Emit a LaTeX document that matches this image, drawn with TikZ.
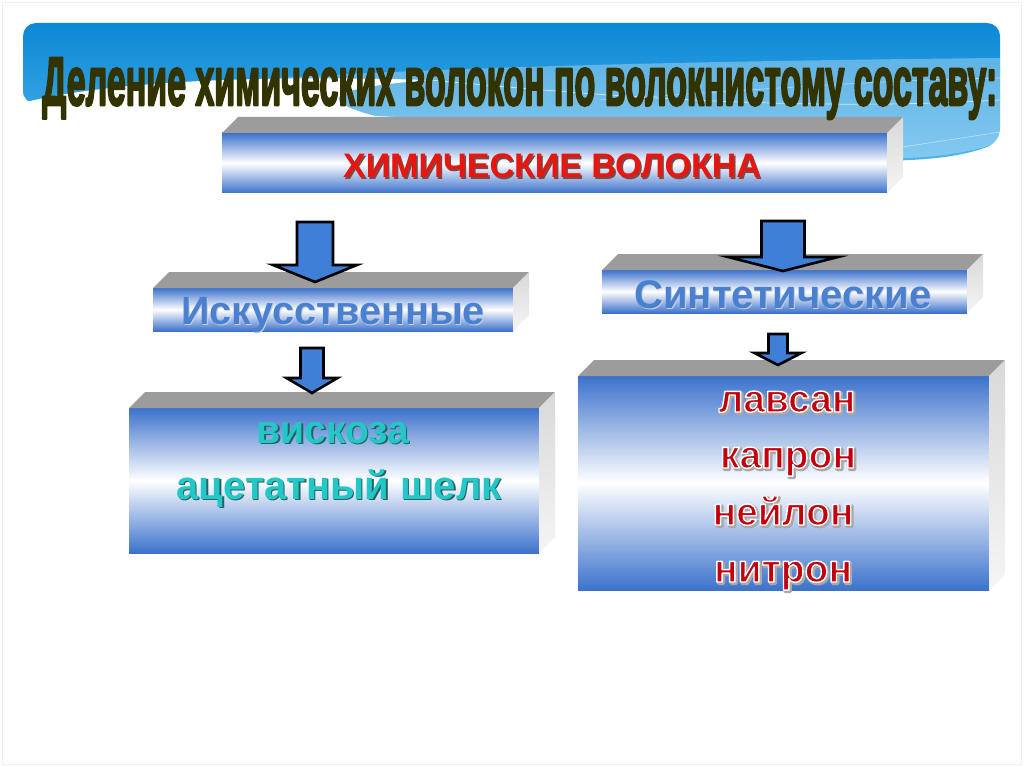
\documentclass[tikz,border=0pt]{standalone}
\usepackage{fontspec}
\setmainfont{Liberation Sans}
\usepackage{graphicx}
\definecolor{sky1}{HTML}{0B88D6}
\definecolor{sky2}{HTML}{5CBCEE}
\definecolor{boxblue}{HTML}{3C72CC}
\definecolor{topgray}{HTML}{9C9C9C}
\definecolor{arrowblue}{HTML}{3F7FD8}
\definecolor{titlecol}{HTML}{333300}
\definecolor{redA}{HTML}{E8160F}
\definecolor{redAshadow}{HTML}{7A4A4A}
\definecolor{blueText}{HTML}{4A80D0}
\definecolor{blueShadow}{HTML}{C8CCD8}
\definecolor{tealText}{HTML}{22C8C8}
\definecolor{tealShadow}{HTML}{2A6062}
\definecolor{redB}{HTML}{C4000C}
\definecolor{outgray}{HTML}{A8A8A8}
% copy of a text, shifted, with zero width
\newcommand\cp[4]{\makebox[0pt][l]{\kern#1\raisebox{#2}{\textcolor{#3}{#4}}}}
% #1 offset, #2 shadow colour, #3 main colour, #4 text
\newcommand\shadowtxt[4]{\cp{#1}{-#1}{#2}{#4}\textcolor{#3}{#4}}
% text filled and stroked: #1 stroke rgb, #2 stroke width, #3 text
\newcommand\strk[3]{\special{pdf:literal direct #1 RG 2 Tr #2 w 1 j}#3\special{pdf:literal direct 0 Tr}}
\newcommand\outlinetxt[1]{%
  \cp{1.5pt}{-1.5pt}{outgray}{\strk{0.66 0.66 0.66}{3}{#1}}%
  \textcolor{redB}{\strk{1 1 1}{1.4}{#1}}}
\tikzset{
  front/.style={shade, top color=boxblue, bottom color=boxblue, middle color=white, inner sep=0pt, outer sep=0pt},
  topface/.style={fill=topgray},
  sideface/.style={top color=gray!30, bottom color=gray!8},
  blockarrow/.style={draw=black, line width=2.6pt, fill=arrowblue, line join=miter},
  lbl/.style={inner sep=0pt, anchor=base, font=\bfseries},
}
% name, x1, y1, x2, y2 of the front face
\newcommand\cube[5]{%
  \node[front, minimum width={#4pt-#2pt}, minimum height={#5pt-#3pt}, anchor=north west] (#1) at (#2,#3) {};
  \fill[topface] (#1.north west) -- ++(16,-16) -- ([shift={(16,-16)}]#1.north east) -- (#1.north east) -- cycle;
  \shade[sideface] (#1.north east) -- ++(16,-16) -- ([shift={(16,-16)}]#1.south east) -- (#1.south east) -- cycle;
}
% cx, ytop, half shaft, head base y, half head, tip y
\newcommand\blockarr[6]{%
  \draw[blockarrow] (#1-#3,#2) -- (#1+#3,#2) -- (#1+#3,#4) -- (#1+#5,#4) -- (#1,#6) -- (#1-#5,#4) -- (#1-#3,#4) -- cycle;
}
\begin{document}
\begin{tikzpicture}[x=1pt,y=-1pt]
\useasboundingbox (0,0) rectangle (1024,767);
\fill[white] (0,0) rectangle (1024,767);
\draw[gray!12, line width=1pt] (2.5,2.5) rectangle (1021.5,764.5);
% sky banner
\shade[top color=sky1, bottom color=sky2, rounded corners=13pt]
  (23,104) -- (23,23) -- (1000,23) -- (1000,142) .. controls (880,188) and (600,125) .. (420,118) .. controls (250,110) and (120,100) .. (23,104) -- cycle;
\fill[white, opacity=0.3]
  (23,104) .. controls (200,72) and (600,62) .. (1000,58) -- (1000,142) .. controls (880,188) and (600,125) .. (420,118) .. controls (250,110) and (120,100) .. (23,104) -- cycle;
\fill[white]
  (18,104) .. controls (90,85) and (220,74) .. (430,80) .. controls (330,88) and (300,100) .. (400,122) -- (18,122) -- cycle;
\draw[white, opacity=0.7, line width=0.7pt] (430,80) .. controls (600,96) and (800,112) .. (1000,100);
\draw[white, opacity=0.5, line width=0.6pt] (600,100) .. controls (750,90) and (880,80) .. (1000,78);
\draw[white, opacity=0.5, line width=0.6pt] (820,160) .. controls (880,150) and (950,140) .. (1000,132);
% boxes
\cube{b1}{222}{133}{887}{193}
\cube{b2}{153}{288}{513}{331}
\cube{b3}{602}{270}{967}{313}
\cube{b4}{129}{408}{539}{553}
\cube{b5}{578}{376}{989}{590}
% arrows
\blockarr{315}{222}{18}{265}{42}{282}
\blockarr{783}{221}{21.5}{257}{55}{271}
\blockarr{312}{348}{11.5}{378}{25.5}{393}
\blockarr{778}{334}{9.5}{353}{23.5}{365}
% texts
\node[lbl, font=\bfseries\fontsize{34}{36}\selectfont] (t1) at (552,178) {\shadowtxt{1.6pt}{redAshadow}{redA}{ХИМИЧЕСКИЕ ВОЛОКНА}};
\node[lbl, font=\bfseries\fontsize{39.5}{42}\selectfont] (t2) at (333,324) {\shadowtxt{1pt}{blueShadow}{blueText}{Искусственные}};
\node[lbl, font=\bfseries\fontsize{40}{42}\selectfont] (t3) at (783,308) {\shadowtxt{1pt}{blueShadow}{blueText}{Синтетические}};
\node[lbl, font=\bfseries\fontsize{39}{42}\selectfont] (t4) at (333,443) {\shadowtxt{1.3pt}{tealShadow}{tealText}{вискоза}};
\node[lbl, font=\bfseries\fontsize{40}{42}\selectfont] (t5) at (339,499) {\shadowtxt{1.3pt}{tealShadow}{tealText}{ацетатный шелк}};
\node[lbl, font=\bfseries\fontsize{39}{42}\selectfont] (t6) at (787,412) {\outlinetxt{лавсан}};
\node[lbl, font=\bfseries\fontsize{39}{42}\selectfont] (t7) at (788,468) {\outlinetxt{капрон}};
\node[lbl, font=\bfseries\fontsize{39}{42}\selectfont] (t8) at (783,525) {\outlinetxt{нейлон}};
\node[lbl, font=\bfseries\fontsize{39}{42}\selectfont] (t9) at (783,582) {\outlinetxt{нитрон}};
% title
\node[inner sep=0pt, anchor=base west, font=\bfseries\fontsize{56}{60}\selectfont] (title) at (42,105)
  {\resizebox{955pt}{47pt}{\textcolor{titlecol}{\strk{0.2 0.2 0}{2.2}{Деление химических волокон по волокнистому составу:}}}};
\end{tikzpicture}
\end{document}
